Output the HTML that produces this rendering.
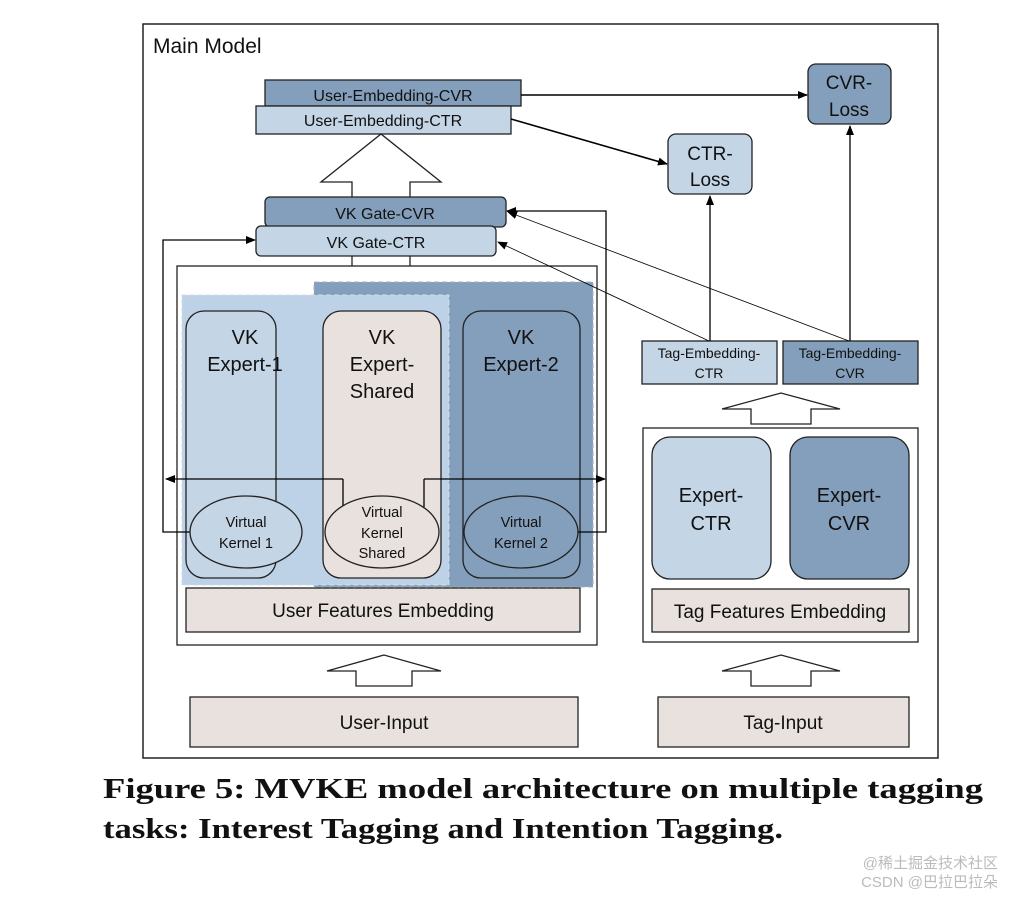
<!DOCTYPE html>
<html><head><meta charset="utf-8"><style>
html,body{margin:0;padding:0;background:#fff;}
svg{display:block;}
text{font-family:"Liberation Sans","DejaVu Sans",sans-serif;fill:#111;}
.cap{font-family:"Liberation Serif",serif;font-weight:bold;font-size:28px;}
</style></head><body>
<svg width="1014" height="898" viewBox="0 0 1014 898" xmlns="http://www.w3.org/2000/svg">
<defs>
<marker id="ah" markerWidth="10" markerHeight="8" refX="9" refY="4" orient="auto" markerUnits="userSpaceOnUse">
<path d="M0,0 L10,4 L0,8 z" fill="#000"/></marker>
</defs>
<rect x="143" y="24" width="795" height="734" fill="#fff" stroke="#222" stroke-width="1.5"/>
<text x="153" y="53" font-size="21">Main Model</text>

<!-- user embeddings -->
<rect x="265" y="80" width="256" height="26" fill="#849fbb" stroke="#222" stroke-width="1.3"/>
<text x="393" y="101" font-size="16" text-anchor="middle">User-Embedding-CVR</text>
<rect x="256" y="106" width="255" height="28" fill="#c4d5e6" stroke="#222" stroke-width="1.3"/>
<text x="383" y="126" font-size="16" text-anchor="middle">User-Embedding-CTR</text>

<!-- hollow arrow up -->
<path d="M352,200 L352,182 L321,182 L381,134 L441,182 L410,182 L410,200" fill="#fff" stroke="#222" stroke-width="1.3"/>

<!-- VK gates -->
<rect x="265" y="197" width="241" height="30" rx="5" fill="#849fbb" stroke="#222" stroke-width="1.3"/>
<text x="385" y="219" font-size="16" text-anchor="middle">VK Gate-CVR</text>
<rect x="256" y="226" width="240" height="30" rx="5" fill="#c4d5e6" stroke="#222" stroke-width="1.3"/>
<text x="376" y="248" font-size="16" text-anchor="middle">VK Gate-CTR</text>
<line x1="352" y1="256" x2="352" y2="266" stroke="#222" stroke-width="1.3"/>
<line x1="410" y1="256" x2="410" y2="266" stroke="#222" stroke-width="1.3"/>

<!-- losses -->
<rect x="668" y="134" width="84" height="60" rx="8" fill="#c4d5e6" stroke="#222" stroke-width="1.3"/>
<text x="710" y="160" font-size="19" text-anchor="middle">CTR-</text>
<text x="710" y="186" font-size="19" text-anchor="middle">Loss</text>
<rect x="808" y="64" width="83" height="60" rx="8" fill="#849fbb" stroke="#222" stroke-width="1.3"/>
<text x="849" y="89" font-size="19" text-anchor="middle">CVR-</text>
<text x="849" y="116" font-size="19" text-anchor="middle">Loss</text>

<line x1="521" y1="95" x2="807" y2="95" stroke="#000" stroke-width="1.6" marker-end="url(#ah)"/>
<line x1="511" y1="119" x2="667" y2="164" stroke="#000" stroke-width="1.6" marker-end="url(#ah)"/>

<!-- user box -->
<rect x="177" y="266" width="420" height="379" fill="#fff" stroke="#222" stroke-width="1.3"/>
<rect x="314" y="282" width="279" height="305" fill="#849fbb" stroke="#9fb3c8" stroke-width="1" stroke-dasharray="5,3"/>
<rect x="182" y="295" width="267" height="290" fill="#bdd2e6" stroke="#d0dcea" stroke-width="1" stroke-dasharray="5,3"/>
<rect x="186" y="311" width="90" height="267" rx="18" fill="#c4d5e6" stroke="#222" stroke-width="1.3"/>
<rect x="323" y="311" width="118" height="267" rx="18" fill="#e8e1dd" stroke="#222" stroke-width="1.3"/>
<rect x="463" y="311" width="117" height="267" rx="18" fill="#849fbb" stroke="#222" stroke-width="1.3"/>
<g font-size="20" text-anchor="middle">
<text x="245" y="344">VK</text><text x="245" y="371">Expert-1</text>
<text x="382" y="344">VK</text><text x="382" y="371">Expert-</text><text x="382" y="398">Shared</text>
<text x="521" y="344">VK</text><text x="521" y="371">Expert-2</text>
</g>
<!-- horizontal line with arrows -->
<line x1="343" y1="479" x2="166" y2="479" stroke="#000" stroke-width="1.3" marker-end="url(#ah)"/>
<line x1="424" y1="479" x2="605" y2="479" stroke="#000" stroke-width="1.3" marker-end="url(#ah)"/>
<line x1="343" y1="479" x2="343" y2="507" stroke="#000" stroke-width="1.3"/>
<line x1="424" y1="479" x2="424" y2="507" stroke="#000" stroke-width="1.3"/>
<ellipse cx="246" cy="532" rx="56" ry="36" fill="#c4d5e6" stroke="#222" stroke-width="1.3"/>
<ellipse cx="382" cy="532" rx="57" ry="36" fill="#e8e1dd" stroke="#222" stroke-width="1.3"/>
<ellipse cx="521" cy="532" rx="57" ry="36" fill="#849fbb" stroke="#222" stroke-width="1.3"/>
<g font-size="14.5" text-anchor="middle">
<text x="246" y="527">Virtual</text><text x="246" y="548">Kernel 1</text>
<text x="382" y="517">Virtual</text><text x="382" y="538">Kernel</text><text x="382" y="558">Shared</text>
<text x="521" y="527">Virtual</text><text x="521" y="548">Kernel 2</text>
</g>
<!-- gate loops -->
<polyline points="190,532 163,532 163,240 255,240" fill="none" stroke="#000" stroke-width="1.3" marker-end="url(#ah)"/>
<polyline points="578,532 606,532 606,211 507,211" fill="none" stroke="#000" stroke-width="1.3" marker-end="url(#ah)"/>

<rect x="186" y="588" width="394" height="44" fill="#e8e1dd" stroke="#222" stroke-width="1.3"/>
<text x="383" y="617" font-size="19" text-anchor="middle">User Features Embedding</text>
<path d="M356,686 L356,671 L327,671 L384,655 L441,671 L412,671 L412,686 Z" fill="#fff" stroke="#222" stroke-width="1.3"/>
<rect x="190" y="697" width="388" height="50" fill="#e8e1dd" stroke="#222" stroke-width="1.3"/>
<text x="384" y="729" font-size="19" text-anchor="middle">User-Input</text>

<!-- tag side -->
<rect x="642" y="341" width="135" height="43" fill="#c4d5e6" stroke="#222" stroke-width="1.3"/>
<text x="709" y="358" font-size="14" text-anchor="middle">Tag-Embedding-</text>
<text x="709" y="378" font-size="14" text-anchor="middle">CTR</text>
<rect x="783" y="341" width="135" height="43" fill="#849fbb" stroke="#222" stroke-width="1.3"/>
<text x="850" y="358" font-size="14" text-anchor="middle">Tag-Embedding-</text>
<text x="850" y="378" font-size="14" text-anchor="middle">CVR</text>
<line x1="710" y1="341" x2="710" y2="196" stroke="#000" stroke-width="1.3" marker-end="url(#ah)"/>
<line x1="850" y1="341" x2="850" y2="126" stroke="#000" stroke-width="1.3" marker-end="url(#ah)"/>
<line x1="709" y1="341" x2="498" y2="242" stroke="#000" stroke-width="0.8" marker-end="url(#ah)"/>
<line x1="849" y1="341" x2="508" y2="212" stroke="#000" stroke-width="0.8" marker-end="url(#ah)"/>
<path d="M751,424 L751,409 L722,409 L781,393 L840,409 L811,409 L811,424 Z" fill="#fff" stroke="#222" stroke-width="1.3"/>
<rect x="643" y="428" width="275" height="214" fill="#fff" stroke="#222" stroke-width="1.3"/>
<rect x="652" y="437" width="119" height="142" rx="18" fill="#c4d5e6" stroke="#222" stroke-width="1.3"/>
<rect x="790" y="437" width="119" height="142" rx="18" fill="#849fbb" stroke="#222" stroke-width="1.3"/>
<g font-size="20" text-anchor="middle">
<text x="711" y="502">Expert-</text><text x="711" y="530">CTR</text>
<text x="849" y="502">Expert-</text><text x="849" y="530">CVR</text>
</g>
<rect x="652" y="589" width="257" height="43" fill="#e8e1dd" stroke="#222" stroke-width="1.3"/>
<text x="780" y="618" font-size="19" text-anchor="middle">Tag Features Embedding</text>
<path d="M751,686 L751,671 L722,671 L781,655 L840,671 L811,671 L811,686 Z" fill="#fff" stroke="#222" stroke-width="1.3"/>
<rect x="658" y="697" width="251" height="50" fill="#e8e1dd" stroke="#222" stroke-width="1.3"/>
<text x="783" y="729" font-size="19" text-anchor="middle">Tag-Input</text>

<!-- caption -->
<text class="cap" x="103" y="798" textLength="880" lengthAdjust="spacingAndGlyphs">Figure 5: MVKE model architecture on multiple tagging</text>
<text class="cap" x="103" y="838" textLength="680" lengthAdjust="spacingAndGlyphs">tasks: Interest Tagging and Intention Tagging.</text>
<text x="998" y="868" font-size="15" text-anchor="end" style="fill:#bbb;font-family:'Liberation Sans','Noto Sans CJK SC',sans-serif">@稀土掘金技术社区</text>
<text x="998" y="887" font-size="15" text-anchor="end" style="fill:#bbb;font-family:'Liberation Sans','Noto Sans CJK SC',sans-serif">CSDN @巴拉巴拉朵</text>
</svg>
</body></html>
